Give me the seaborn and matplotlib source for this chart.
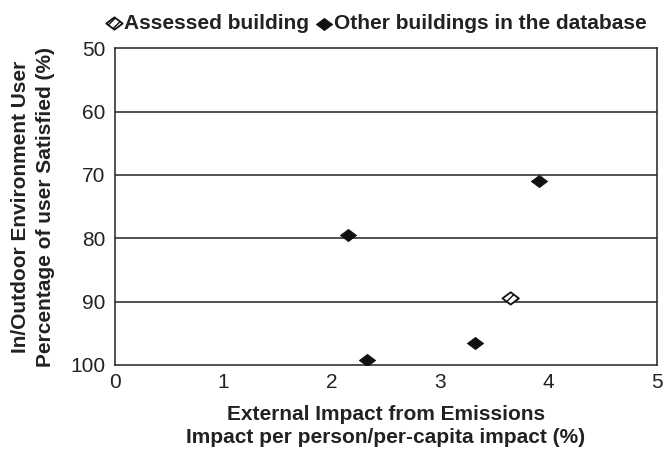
import matplotlib
matplotlib.use("Agg")
import matplotlib.pyplot as plt
from matplotlib.path import Path
import seaborn as sns
import pandas as pd

# data
assessed_x = [3.65]
assessed_y = [89.5]
other_x = [2.15, 2.32, 3.32, 3.91]
other_y = [79.5, 99.2, 96.5, 70.9]
x_ticks = [0, 1, 2, 3, 4, 5]
y_ticks = [50, 60, 70, 80, 90, 100]

sns.set_theme(style="white")
plt.rcParams["font.family"] = ["Liberation Sans", "DejaVu Sans"]

diamond = Path([(-1, 0), (0, 0.75), (1, 0), (0, -0.75), (-1, 0)],
               [Path.MOVETO, Path.LINETO, Path.LINETO, Path.LINETO, Path.CLOSEPOLY])

fig = plt.figure(figsize=(6.65, 4.5), dpi=100)
ax = fig.add_axes([0.173, 0.189, 0.815, 0.704])

# horizontal grid lines
for v in y_ticks[1:-1]:
    ax.axhline(v, color="#222222", lw=1.1, zorder=1)

other = pd.DataFrame({"x": other_x, "y": other_y})
assessed = pd.DataFrame({"x": assessed_x, "y": assessed_y})

sns.scatterplot(data=other, x="x", y="y", marker=diamond, s=140, color="#111111",
                edgecolor="#111111", linewidth=0.5, ax=ax, zorder=3,
                label="Other buildings in the database")
sns.scatterplot(data=assessed, x="x", y="y", marker=diamond, s=140, facecolor="white",
                edgecolor="#111111", linewidth=1.3, hatch="////", ax=ax, zorder=3,
                label="Assessed building")

ax.set_xlim(0, 5)
ax.set_ylim(100, 50)
ax.set_xticks(x_ticks)
ax.set_yticks(y_ticks)
ax.tick_params(axis="x", direction="in", length=7, width=1.1, color="#222222",
               labelsize=15, pad=6, labelcolor="#222222")
ax.tick_params(axis="y", length=0, labelsize=15, pad=7, labelcolor="#222222")
for sp in ax.spines.values():
    sp.set_color("#222222")
    sp.set_linewidth(1.1)

ax.set_xlabel("External Impact from Emissions\nImpact per person/per-capita impact (%)",
              fontsize=15, fontweight="bold", labelpad=9, linespacing=1.3, color="#222222")
ax.set_ylabel("In/Outdoor Environment User\nPercentage of user Satisfied (%)",
              fontsize=15, fontweight="bold", labelpad=11, linespacing=1.4, color="#222222")

h, l = ax.get_legend_handles_labels()
leg = ax.legend([h[1], h[0]], [l[1], l[0]], loc="lower right", bbox_to_anchor=(1.0, 1.015),
                ncol=2, frameon=False, handletextpad=0.0, columnspacing=0.3,
                borderaxespad=0.1, handlelength=0.9, prop={"weight": "bold", "size": 15},
                labelcolor="#222222")

fig.savefig("out.png", dpi=100)
